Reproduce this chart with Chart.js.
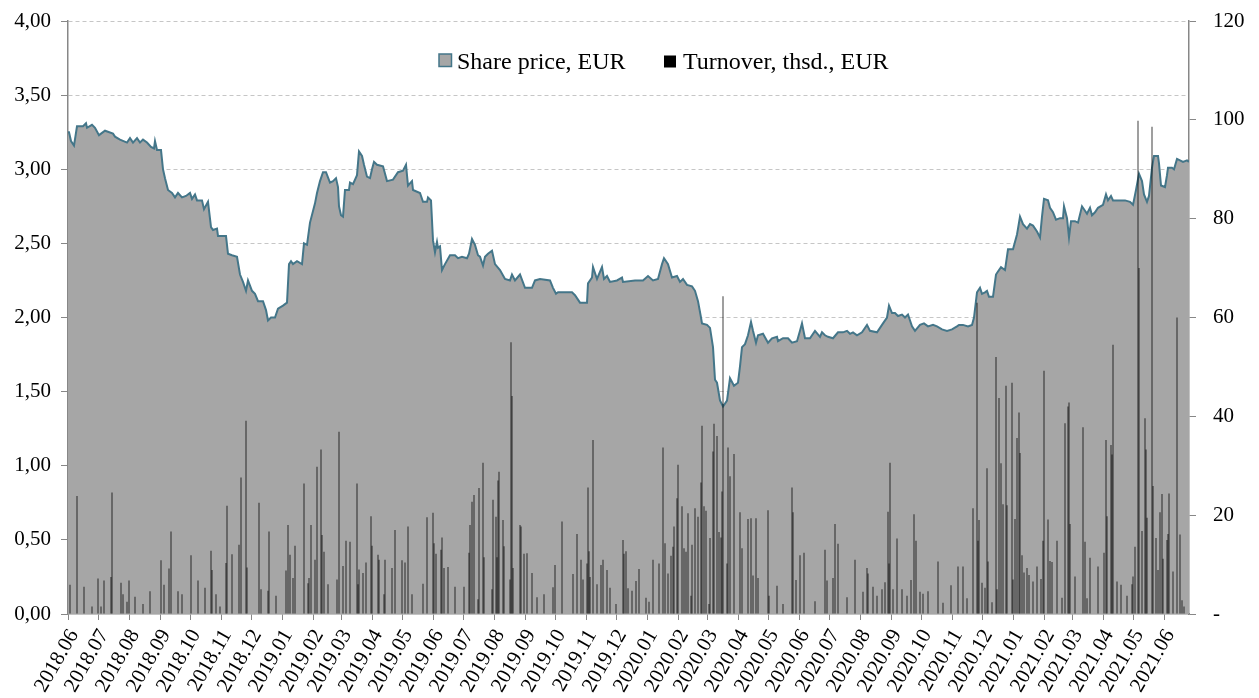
<!DOCTYPE html>
<html>
<head>
<meta charset="utf-8">
<script src="https://cdn.jsdelivr.net/npm/chart.js@4.4.1/dist/chart.umd.min.js"></script>
<style>
  html, body { margin: 0; padding: 0; background: #fff; }
  #wrap { width: 1259px; height: 698px; }
</style>
</head>
<body>
<div id="wrap"><canvas id="shareChart" width="1259" height="698"></canvas></div>
<script>
// month labels on the x axis (ticks sit on the 1st of each month)
const monthLabels = [
  '2018.06','2018.07','2018.08','2018.09','2018.10','2018.11','2018.12',
  '2019.01','2019.02','2019.03','2019.04','2019.05','2019.06','2019.07','2019.08','2019.09','2019.10','2019.11','2019.12',
  '2020.01','2020.02','2020.03','2020.04','2020.05','2020.06','2020.07','2020.08','2020.09','2020.10','2020.11','2020.12',
  '2021.01','2021.02','2021.03','2021.04','2021.05','2021.06'
];

// share price: day (counted from 2018-06-01) and price in EUR
const priceDay = [
  0,1,3,6,9,15,18,19,24,27,
  31,37,45,47,52,59,62,65,69,72,
  75,79,83,86,87,89,93,95,97,100,
  104,107,110,114,118,122,124,127,129,134,
  136,140,143,145,149,150,158,160,164,169,
  172,175,178,180,184,187,190,195,198,200,
  203,207,210,215,219,221,223,225,229,234,
  236,239,242,247,249,252,255,258,262,265,
  268,270,271,273,275,277,281,282,285,289,
  291,294,296,299,302,304,306,309,315,319,
  325,330,335,338,340,344,345,352,355,359,
  360,363,365,367,369,370,372,374,377,382,
  387,390,394,399,401,404,407,410,412,415,
  417,420,424,427,432,437,442,444,447,452,
  457,464,467,472,482,485,488,490,504,507,
  512,519,520,524,525,529,534,536,539,542,
  549,554,555,567,575,580,585,590,594,596,
  600,604,609,612,615,619,624,627,630,633,
  634,639,642,645,647,649,652,655,659,662,
  666,670,672,674,677,680,683,685,688,690,
  695,700,704,709,710,715,720,724,729,732,
  734,737,742,747,752,754,757,760,765,770,
  775,779,782,785,789,794,799,802,809,815,
  819,821,824,827,830,834,837,840,844,847,
  852,856,860,865,869,874,879,884,889,891,
  895,900,904,906,909,912,914,917,919,921,
  925,928,930,933,937,940,945,949,950,952,
  955,959,962,965,969,972,974,976,980,982,
  985,988,992,995,996,999,1001,1003,1007,1010,
  1014,1017,1019,1022,1024,1027,1030,1035,1038,1040,
  1043,1045,1050,1057,1062,1065,1068,1071,1074,1076,
  1079,1081,1084,1086,1090,1091,1093,1097,1099,1100,
  1104,1106,1109,1112,1115,1119,1121
];
const priceValue = [
  3.25,3.25,3.19,3.16,3.29,3.29,3.31,3.28,3.30,3.28,
  3.23,3.26,3.24,3.22,3.20,3.18,3.21,3.18,3.21,3.18,
  3.20,3.18,3.15,3.14,3.19,3.13,3.13,3.00,2.94,2.86,
  2.84,2.81,2.84,2.81,2.82,2.84,2.80,2.83,2.79,2.79,
  2.73,2.78,2.61,2.59,2.60,2.55,2.55,2.43,2.42,2.41,
  2.29,2.24,2.18,2.25,2.18,2.16,2.11,2.11,2.05,1.98,
  2.00,2.00,2.06,2.08,2.10,2.36,2.38,2.36,2.38,2.36,
  2.50,2.49,2.64,2.77,2.84,2.92,2.98,2.98,2.91,2.92,
  2.94,2.88,2.75,2.69,2.68,2.86,2.86,2.91,2.90,2.96,
  3.12,3.09,3.03,2.95,2.94,3.00,3.05,3.03,3.02,2.92,
  2.93,2.98,2.99,3.03,2.89,2.92,2.86,2.84,2.78,2.78,
  2.81,2.79,2.52,2.44,2.51,2.47,2.48,2.32,2.36,2.42,
  2.42,2.40,2.41,2.40,2.43,2.53,2.49,2.42,2.41,2.35,
  2.41,2.43,2.45,2.36,2.32,2.26,2.25,2.29,2.25,2.29,
  2.20,2.20,2.25,2.26,2.25,2.20,2.16,2.17,2.17,2.15,
  2.10,2.10,2.23,2.27,2.34,2.26,2.34,2.26,2.28,2.24,
  2.25,2.27,2.24,2.25,2.25,2.28,2.25,2.26,2.36,2.40,
  2.36,2.27,2.28,2.24,2.26,2.22,2.21,2.18,2.11,2.00,
  1.96,1.95,1.93,1.80,1.58,1.56,1.44,1.40,1.44,1.59,
  1.54,1.56,1.67,1.80,1.82,1.88,1.97,1.91,1.83,1.88,
  1.89,1.83,1.86,1.87,1.84,1.86,1.86,1.83,1.84,1.91,
  1.96,1.86,1.86,1.91,1.87,1.90,1.88,1.87,1.86,1.90,
  1.90,1.91,1.89,1.90,1.88,1.90,1.95,1.91,1.90,1.96,
  2.00,2.08,2.03,2.03,2.01,2.02,2.00,2.02,1.94,1.91,
  1.95,1.96,1.94,1.95,1.94,1.92,1.91,1.92,1.94,1.95,
  1.95,1.94,1.95,2.00,2.17,2.20,2.16,2.17,2.18,2.14,
  2.14,2.29,2.31,2.34,2.32,2.46,2.46,2.56,2.60,2.68,
  2.63,2.60,2.63,2.62,2.58,2.54,2.68,2.80,2.79,2.74,
  2.71,2.66,2.67,2.67,2.75,2.67,2.54,2.65,2.65,2.64,
  2.75,2.72,2.70,2.74,2.69,2.71,2.74,2.76,2.83,2.79,
  2.82,2.79,2.79,2.79,2.78,2.76,2.86,2.97,2.92,2.83,
  2.78,2.82,3.01,3.09,3.09,3.04,2.89,2.88,2.96,3.01,
  3.01,3.00,3.07,3.06,3.05,3.06,3.05
];

// turnover: day (from 2018-06-01) and value in thsd. EUR
const turnoverDay = [
  2,9,16,24,30,33,36,43,44,53,
  55,59,61,67,75,82,93,96,101,103,
  110,114,123,130,137,143,144,148,152,158,
  159,164,171,173,178,179,191,193,200,201,
  208,218,220,222,225,227,236,240,241,243,
  247,249,253,254,256,260,269,271,275,278,
  282,289,290,291,295,298,303,304,310,311,
  316,317,324,327,334,337,340,344,355,359,
  365,366,368,373,374,376,380,387,396,401,
  402,404,406,410,411,415,416,424,425,428,
  429,430,431,435,436,442,443,444,445,452,
  453,456,459,464,469,476,485,487,494,505,
  509,513,515,519,520,521,522,525,529,533,
  535,539,542,548,555,556,558,560,564,568,
  571,578,581,585,591,595,597,600,603,605,
  606,609,610,614,616,618,620,623,624,627,
  630,633,634,636,638,641,642,645,646,649,
  651,653,654,655,659,660,662,666,672,674,
  680,683,685,688,690,700,701,709,715,724,
  725,728,732,736,747,757,759,765,767,770,
  779,787,795,799,800,805,809,814,817,820,
  821,822,825,829,834,839,843,846,848,852,
  855,860,870,875,883,890,895,899,905,909,
  910,911,914,917,919,920,924,928,929,931,
  933,935,938,939,944,945,947,949,951,952,
  954,956,959,961,965,969,973,975,976,980,
  982,984,989,994,997,1000,1001,1002,1007,1015,
  1017,1019,1022,1030,1036,1038,1039,1043,1044,1045,
  1049,1053,1059,1064,1065,1067,1070,1071,1074,1077,
  1078,1079,1084,1085,1088,1090,1092,1094,1095,1099,
  1100,1101,1105,1109,1112,1114,1116
];
const turnoverValue = [
  5.9,23.9,5.5,1.5,7.2,1.5,6.8,7.5,24.6,6.3,
  4,2.5,6.8,3.5,2,4.6,10.9,5.9,9.2,16.7,
  4.6,4,11.9,6.8,5.3,12.8,8.9,4,1.5,10.3,
  21.9,12.1,14,27.6,39.1,9.4,22.5,5,4.7,16.7,
  3.7,8.8,18,12,7.3,13.8,26.4,6.2,7.3,18,
  11,29.8,33.3,16,12.6,6,7,36.9,9.7,14.8,
  14.6,26.4,6,9,8.3,10.4,19.8,13.8,12,11,
  4,11,9.3,17,10.9,10.4,17.7,4,6.1,19.6,
  20.5,14.3,12.2,13,15.5,9.3,9.5,5.5,5.5,12.4,
  18,22.7,24.1,3,25.5,30.6,11.5,5,23.1,19.7,
  11.5,27,28.8,19,13.7,7,55,44.1,9.3,18,
  17.7,12.2,12.3,8.3,3.4,4,5.4,9.9,18.7,8.1,
  16.2,11,7,10.2,25.6,12.7,7.5,35.2,6,9.9,
  11,8.9,5.3,2,15,12.2,12.7,5.2,4.7,6.7,
  9.1,3.3,2.5,11,10.2,33.7,14.3,8.2,11.8,13.6,
  17.7,23.4,30.2,21.8,13.3,12.6,20.4,3.7,14,21.4,
  19.7,26.6,38.1,21.8,20.9,2,15.4,32.9,38.5,36,
  16.6,15.5,24.8,64.3,10.2,33.7,27.9,32.4,20.6,13.3,
  19.2,19.4,7.8,19.4,7.3,21,3.7,5.7,2,25.6,
  20.6,6.9,11.9,12.4,2.6,13,6.8,7.3,18.2,14.2,
  3.4,11,4.5,9.3,8.2,5.5,3.7,5,6.4,20.7,
  10.2,30.6,5,15.3,5,3.7,6.9,20.2,14.8,4.5,
  4.1,4.6,10.6,2.3,5.8,9.6,9.6,3.2,21.4,63,
  14.8,19,6.3,5.3,29.5,10.6,2.4,52,5,43.7,
  30.5,22.2,46.2,22,46.8,7,19.2,35.6,40.8,32.6,
  11.9,8.4,9.3,7.9,6.6,9.6,7.1,14.8,49.2,19.1,
  10.7,10.5,14.8,3.3,38.6,42,42.8,18.2,7.6,37.8,
  14.6,3.2,11.4,9.6,12.4,35.2,19.8,34.2,32.3,54.5,
  6.6,5.9,3.7,6,7.6,13.6,99.8,70,16.8,39.6,
  33.3,19.5,98.6,25.9,15.4,8.9,20.6,24.3,11.2,15,
  16.2,24.4,8.6,60,16.1,2.8,1.5
];

const startUTC = Date.UTC(2018, 5, 1);
const monthDays = monthLabels.map(function(lbl) {
  const p = lbl.split('.');
  return (Date.UTC(+p[0], +p[1] - 1, 1) - startUTC) / 86400000;
});

const axisGrey = '#878787';
const tickFont = { family: 'Liberation Serif', size: 21 };

// fixed sizes for the value axes, no extra label padding at top/bottom
function fixWidth(w) {
  return function(s) {
    s.width = w;
    s.paddingTop = 0;
    s.paddingBottom = 0;
  };
}

// legend drawn inside the plot, like the original
const insideLegend = {
  id: 'insideLegend',
  afterDraw(chart) {
    const ctx = chart.ctx;
    const a = chart.chartArea;
    const ds = chart.data.datasets;
    ctx.save();
    ctx.font = '24px "Liberation Serif"';
    ctx.textBaseline = 'alphabetic';
    // share price box
    ctx.fillStyle = ds[0].backgroundColor;
    ctx.fillRect(a.left + 371, a.top + 33, 12.5, 12.5);
    ctx.strokeStyle = ds[0].borderColor;
    ctx.lineWidth = 1.5;
    ctx.strokeRect(a.left + 371, a.top + 33, 12.5, 12.5);
    ctx.fillStyle = '#000';
    ctx.fillText(ds[0].label, a.left + 389, a.top + 47.5);
    // turnover box
    ctx.fillRect(a.left + 596, a.top + 34.5, 12, 12);
    ctx.fillText(ds[1].label, a.left + 615, a.top + 47.5);
    ctx.restore();
  }
};

const ctx = document.getElementById('shareChart').getContext('2d');
new Chart(ctx, {
  type: 'line',
  data: {
    datasets: [{
      type: 'line',
      label: 'Share price, EUR',
      data: priceDay.map((d, i) => ({ x: d, y: priceValue[i] })),
      yAxisID: 'y',
      borderColor: '#447689',
      backgroundColor: '#a6a6a6',
      borderWidth: 2,
      fill: 'origin',
      pointRadius: 0,
      tension: 0,
      order: 2
    }, {
      type: 'bar',
      label: 'Turnover, thsd., EUR',
      data: turnoverDay.map((d, i) => ({ x: d, y: turnoverValue[i] })),
      yAxisID: 'y2',
      backgroundColor: '#000',
      barThickness: 0.75,
      inflateAmount: 0,
      order: 1
    }]
  },
  options: {
    responsive: false,
    animation: false,
    devicePixelRatio: 1,
    events: [],
    layout: { padding: { top: 21 } },
    plugins: {
      legend: { display: false },
      tooltip: { enabled: false }
    },
    scales: {
      x: {
        type: 'linear',
        min: 0,
        max: 1121,
        offset: false,
        afterBuildTicks: s => { s.ticks = monthDays.map(v => ({ value: v })); },
        afterFit: s => { s.height = 84; },
        ticks: {
          autoSkip: false,
          minRotation: 60,
          maxRotation: 60,
          padding: 5,
          labelOffset: 6,
          color: '#000',
          font: tickFont,
          callback: (v, i) => monthLabels[i]
        },
        grid: { drawOnChartArea: false, offset: false, color: axisGrey, tickLength: 6 },
        border: { color: axisGrey, width: 1.5 }
      },
      y: {
        position: 'left',
        min: 0,
        max: 4,
        afterFit: fixWidth(68),
        ticks: {
          stepSize: 0.5,
          padding: 10,
          color: '#000',
          font: tickFont,
          callback: v => v.toFixed(2).replace('.', ',')
        },
        grid: {
          color: c => (c.tick && c.tick.value === 0) ? 'rgba(0,0,0,0)' : '#c6c6c6',
          tickColor: axisGrey,
          tickLength: 7
        },
        border: { color: axisGrey, width: 1.5, dash: [4, 3] }
      },
      y2: {
        position: 'right',
        min: 0,
        max: 120,
        afterFit: fixWidth(70),
        ticks: {
          stepSize: 20,
          padding: 17,
          color: '#000',
          font: tickFont,
          callback: v => v === 0 ? '-' : v
        },
        grid: { drawOnChartArea: false, color: axisGrey, tickLength: 7 },
        border: { color: axisGrey, width: 1.5 }
      }
    }
  },
  plugins: [insideLegend]
});
</script>
</body>
</html>
